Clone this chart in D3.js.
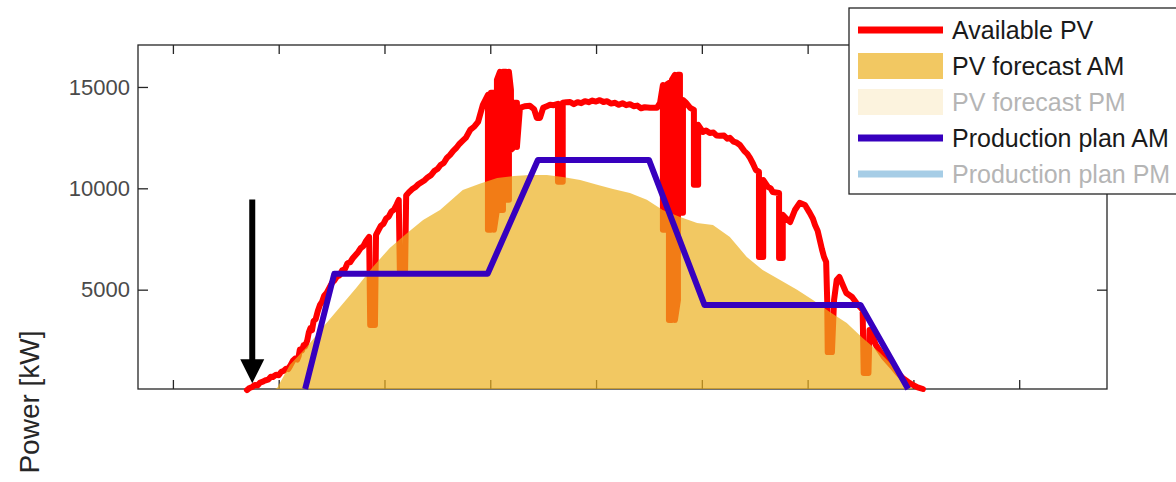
<!DOCTYPE html>
<html><head><meta charset="utf-8">
<script src="https://cdn.jsdelivr.net/npm/d3@7"></script>
<style>
html,body{margin:0;padding:0;background:#fff;}
svg{display:block;font-family:"Liberation Sans",Arial,Helvetica,sans-serif;}
</style></head>
<body>
<svg id="chart" width="1176" height="482"></svg>
<script>
// ---- data (hours of day, kW) ----
const xTicks = [4, 6, 8, 10, 12, 14, 16, 18, 20];
const yTicks = [5000, 10000, 15000];
const yTickLabels = ["5000", "10000", "15000"];

const availablePV = [
[5.40,50],[5.45,150],[5.50,200],[5.55,300],[5.60,280],[5.65,420],[5.70,460],[5.74,520],[5.80,560],[5.85,700],[5.89,690],[5.95,800],[6.00,780],[6.05,950],[6.10,1000],[6.14,1100],[6.18,1080],[6.22,1250],[6.27,1500],[6.31,1600],[6.35,1550],[6.38,1750],[6.40,2050],[6.44,2000],[6.47,2250],[6.50,2200],[6.54,2500],[6.57,2900],[6.60,3100],[6.63,3000],[6.66,3450],[6.70,3550],[6.74,3950],[6.78,4250],[6.82,4400],[6.86,4700],[6.91,4850],[6.96,5100],[7.01,5350],[7.05,5450],[7.10,5650],[7.15,5700],[7.20,5950],[7.25,6000],[7.30,6300],[7.35,6350],[7.40,6550],[7.45,6700],[7.50,6850],[7.55,7050],[7.60,7150],[7.65,7400],[7.71,7600],[7.73,3260],[7.82,3260],[7.84,7700],[7.88,7900],[7.93,8150],[7.98,8250],[8.03,8500],[8.08,8600],[8.13,8850],[8.18,8950],[8.23,9200],[8.27,9430],[8.29,5970],[8.39,5970],[8.41,9650],[8.46,9800],[8.52,9950],[8.58,10050],[8.64,10200],[8.70,10300],[8.76,10400],[8.82,10550],[8.88,10650],[8.94,10850],[9.00,10950],[9.06,11150],[9.12,11250],[9.18,11500],[9.24,11650],[9.30,11850],[9.36,12000],[9.42,12200],[9.48,12350],[9.54,12500],[9.62,12880],[9.70,13050],[9.77,13280],[9.86,14120],
[9.956,14610],[9.956,7950],[10.013,7950],[10.013,14710],[10.070,14710],[10.070,7950],[10.126,8930],[10.126,15350],[10.183,15750],[10.183,8930],[10.240,8930],[10.240,15750],[10.297,15750],[10.297,9430],[10.353,9430],[10.353,15750],[10.391,14860],[10.391,11900],[10.448,12040],[10.448,14220],[10.504,14220],[10.504,12040],[10.561,13970],
[10.65,14050],[10.75,14070],[10.83,13900],[10.88,13470],[10.94,13470],[11.00,13970],[11.07,14050],[11.13,14120],[11.20,14100],[11.28,14170],[11.28,10320],[11.37,10320],[11.37,14220],[11.44,14250],[11.51,14260],[11.58,14150],[11.65,14250],[11.72,14200],[11.79,14300],[11.86,14250],[11.93,14330],[12.00,14280],[12.07,14350],[12.14,14260],[12.21,14300],[12.28,14180],[12.36,14220],[12.43,14120],[12.50,14200],[12.57,14100],[12.64,14150],[12.71,14050],[12.78,14080],[12.85,13950],[12.92,14000],[13.02,13970],[13.15,13970],[13.21,14220],
[13.264,15100],[13.264,7950],[13.321,7950],[13.321,15100],[13.378,15200],[13.378,3500],[13.434,3500],[13.434,15350],[13.491,15600],[13.491,3500],[13.548,4490],[13.548,15600],[13.586,15600],[13.586,8790],[13.643,8790],[13.643,14360],
[13.70,14220],[13.78,13970],[13.85,13870],[13.85,10170],[13.93,10170],[13.93,13130],[14.02,12780],[14.08,12850],[14.15,12730],[14.22,12750],[14.28,12600],[14.34,12590],[14.42,12600],[14.48,12450],[14.53,12490],[14.60,12300],[14.66,12250],[14.72,12140],[14.80,11850],[14.86,11700],[14.91,11500],[14.97,11200],[15.02,10910],[15.08,10810],[15.08,6610],[15.16,6610],[15.16,10410],[15.25,10070],[15.30,10000],[15.34,9820],[15.46,9770],[15.46,6560],[15.53,6560],[15.53,8690],[15.60,8500],[15.67,8340],[15.71,8600],[15.76,8930],[15.85,9280],[15.95,9180],[16.04,8790],[16.10,8500],[16.14,8190],[16.19,7900],[16.23,7450],[16.27,7000],[16.31,6610],[16.35,6370],[16.37,4490],[16.38,1920],[16.46,1920],[16.50,4490],[16.55,5480],[16.60,5630],[16.67,5200],[16.73,4840],[16.78,4750],[16.84,4640],[16.92,4350],[16.99,4150],[17.04,4000],[17.06,890],[17.15,890],[17.17,3010],[17.23,2700],[17.29,2270],[17.36,2000],[17.44,1680],[17.52,1450],[17.61,1180],[17.70,900],[17.80,640],[17.90,450],[17.99,300],[18.08,180],[18.18,100]
];

const forecastAM = [
[5.93,0],[5.97,150],[6.21,1280],[6.53,2170],[6.84,3160],[7.16,4150],[7.48,5130],[7.78,6120],[8.10,7060],[8.43,7800],[8.73,8440],[9.05,8930],[9.48,9920],[9.80,10220],[10.13,10510],[10.45,10610],[10.75,10660],[11.07,10660],[11.37,10560],[11.70,10410],[12.02,10170],[12.32,9970],[12.64,9770],[12.96,9430],[13.26,8930],[13.59,8590],[13.91,8290],[14.21,8190],[14.53,7600],[14.85,6610],[15.15,5970],[15.48,5480],[15.80,4990],[16.10,4490],[16.42,3900],[16.74,3360],[17.04,2620],[17.37,1880],[17.69,1040],[17.93,200],[17.99,0]
];

const planAM = [[6.5,0],[7.05,5780],[9.95,5780],[10.9,11400],[13.0,11400],[14.05,4250],[17.0,4250],[17.9,0]];

const legendLabels = ["Available PV", "PV forecast AM", "PV forecast PM", "Production plan AM", "Production plan PM"];
const legendKinds  = ["line", "patch", "patch", "line", "line"];
const legendColors = ["#ff0000", "#EDB120", "#EDB120", "#3700BE", "#a6cde6"];
const legendActive = [true, true, false, true, false];

const arrowMark = {hour: 5.5, fromKW: 9450, toKW: 380};

// ---- scales ----
const svg = d3.select("#chart");
const L = 138, R = 1107, T = 45, B = 389;
const x = d3.scaleLinear().domain([3.34, 21.66]).range([L, R]);
const y = d3.scaleLinear().domain([100, 17070]).range([B, T]);
const axisColor = "#262626";

// axes box
svg.append("rect").attr("x", L).attr("y", T).attr("width", R - L).attr("height", B - T)
  .attr("fill", "none").attr("stroke", axisColor).attr("stroke-width", 1.3);

function styleAxis(g) {
  g.select(".domain").remove();
  g.selectAll(".tick line").attr("stroke", axisColor).attr("stroke-width", 1.3);
  g.selectAll(".tick text").attr("fill", "#4a4a4a").attr("font-size", 22)
    .attr("font-family", "Liberation Sans, Arial, sans-serif");
}
svg.append("g").attr("transform", `translate(${L},0)`)
  .call(d3.axisLeft(y).tickValues(yTicks).tickFormat((d, i) => yTickLabels[i]).tickSize(-10).tickPadding(8))
  .call(styleAxis);
svg.append("g").attr("transform", `translate(${R},0)`)
  .call(d3.axisRight(y).tickValues(yTicks).tickFormat("").tickSize(-10))
  .call(styleAxis);
svg.append("g").attr("transform", `translate(0,${B})`)
  .call(d3.axisBottom(x).tickValues(xTicks).tickFormat("").tickSize(-9))
  .call(styleAxis);
svg.append("g").attr("transform", `translate(0,${T})`)
  .call(d3.axisTop(x).tickValues(xTicks).tickFormat("").tickSize(-9))
  .call(styleAxis);

// available PV (red)
svg.append("path").datum(availablePV)
  .attr("d", d3.line().x(d => x(d[0])).y(d => y(d[1])))
  .attr("fill", "none").attr("stroke", "#ff0000").attr("stroke-width", 6)
  .attr("stroke-linejoin", "round").attr("stroke-linecap", "round");

// forecast area
svg.append("path").datum(forecastAM)
  .attr("d", d3.area().x(d => x(d[0])).y0(B).y1(d => Math.min(B, y(d[1]))))
  .attr("fill", "#EDB120").attr("fill-opacity", 0.7);

// production plan AM
svg.append("path").datum(planAM)
  .attr("d", d3.line().x(d => x(d[0])).y(d => Math.min(B, y(d[1]))))
  .attr("fill", "none").attr("stroke", "#3700BE").attr("stroke-width", 6)
  .attr("stroke-linejoin", "round");

// arrow
const ax = x(arrowMark.hour), ay0 = y(arrowMark.fromKW), ay1 = y(arrowMark.toKW);
svg.append("line").attr("x1", ax).attr("x2", ax).attr("y1", ay0).attr("y2", ay1 - 20)
  .attr("stroke", "#000").attr("stroke-width", 6);
svg.append("path").attr("d", `M${ax - 12},${ay1 - 24} L${ax + 12},${ay1 - 24} L${ax},${ay1} Z`).attr("fill", "#000");

// y label
svg.append("text").attr("transform", `translate(39,402) rotate(-90)`)
  .attr("text-anchor", "middle").attr("font-size", 28).attr("fill", "#262626").text("Power [kW]");

// legend
const lg = svg.append("g");
lg.append("rect").attr("x", 849).attr("y", 8).attr("width", 340).attr("height", 186)
  .attr("fill", "#fff").attr("stroke", axisColor).attr("stroke-width", 1.3);
const rowY = d3.scalePoint().domain(d3.range(legendLabels.length)).range([30, 174]);
legendLabels.forEach((lab, i) => {
  const cy = rowY(i);
  if (legendKinds[i] === "line") {
    lg.append("line").attr("x1", 858).attr("x2", 943).attr("y1", cy).attr("y2", cy)
      .attr("stroke", legendColors[i]).attr("stroke-width", 7);
  } else {
    lg.append("rect").attr("x", 858).attr("y", cy - 13).attr("width", 85).attr("height", 26)
      .attr("fill", legendColors[i]).attr("fill-opacity", legendActive[i] ? 0.7 : 0.15);
  }
  lg.append("text").attr("x", 952).attr("y", cy).attr("dy", "0.35em")
    .attr("font-size", 25).attr("fill", legendActive[i] ? "#1a1a1a" : "#b5b5b5").text(lab);
});
</script>
</body></html>
